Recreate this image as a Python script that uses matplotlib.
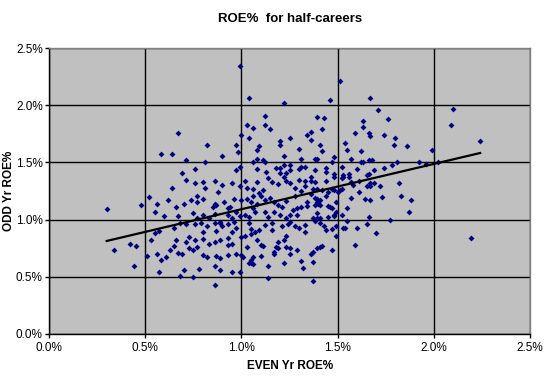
import numpy as np
import matplotlib
matplotlib.use("Agg")
import matplotlib.pyplot as plt
from matplotlib.ticker import FuncFormatter, MultipleLocator

plt.rcParams['font.family'] = ['Liberation Sans', 'DejaVu Sans']

# ROE%, (even year, odd year) pairs
even_roe = [
    0.67, 0.58, 0.64,
    0.99, 1.04, 1.22, 1.12, 1.03, 1.06, 1.12, 1.15, 1.00, 1.04, 1.20, 1.25, 1.30, 0.82, 0.97, 1.09,
    1.08, 1.20, 0.98, 0.90, 1.22, 0.71, 0.81, 1.08, 1.11, 1.06, 1.12, 0.99, 0.76, 0.97, 1.08, 1.13,
    1.18, 1.20, 1.22, 1.25, 1.20, 1.23, 1.25, 1.30, 0.69,
    1.51, 1.46, 1.67, 1.71, 1.39, 1.43, 1.76, 1.63, 1.63, 1.42, 1.36, 1.34, 1.59, 1.66, 1.67, 1.74,
    1.80, 1.36, 1.54, 1.41, 1.79, 1.86, 1.42, 1.55, 1.62, 1.48, 1.31, 1.38, 1.39, 1.57, 1.62, 1.63,
    1.66, 1.68, 1.81, 1.78, 1.92, 1.47, 1.31, 1.33, 1.38, 1.44, 1.44, 1.52, 1.60, 1.69, 1.74, 1.48,
    1.56, 1.66, 1.53,
    2.10, 2.09, 2.24, 1.99, 1.96, 2.02, 2.19,
    0.64, 0.52, 0.48, 0.56, 0.62, 0.30, 0.55, 0.66, 0.60, 0.67, 0.68, 0.65, 0.55, 0.57, 0.42, 0.45,
    0.53, 0.66, 0.65, 0.63, 0.67, 0.34, 0.56, 0.51, 0.61, 0.58, 0.44, 0.57, 0.68,
    0.71, 0.76, 0.80, 0.81, 0.86, 0.88, 0.90, 0.95, 0.99, 1.02, 1.03, 1.06, 1.08, 1.09, 1.11, 1.14,
    1.16, 1.19, 1.22, 1.23, 1.25, 1.28, 1.30,
    0.70, 0.74, 0.77, 0.77, 0.80, 0.85, 0.86, 0.87, 0.91, 0.94, 0.96, 1.00, 1.03, 1.05, 1.06, 1.08,
    1.10, 1.12, 1.15, 1.17, 1.19, 1.21, 1.23, 1.29, 1.28,
    0.75, 0.77, 0.80, 0.83, 0.86, 0.89, 0.93, 0.93, 0.95, 0.97, 0.99, 1.02, 1.04, 1.06, 1.07, 1.12,
    1.14, 1.17, 1.20, 1.23, 1.25, 1.27, 1.29,
    0.71, 0.76, 0.79, 0.82, 0.86, 0.87, 0.89, 0.90, 0.93, 0.95, 0.96, 0.97, 1.04, 1.05, 1.05, 1.07,
    1.09, 1.12, 1.16, 1.16, 1.21, 1.24, 1.25, 1.28, 1.30, 1.23,
    0.73, 0.71, 0.76, 0.80, 0.80, 0.77, 0.83, 0.86, 0.89, 0.93, 0.93, 0.95, 1.00, 1.02, 1.03, 1.08,
    1.10, 1.11, 1.18, 1.19, 1.22, 1.23, 1.25,
    0.69, 0.73, 0.75, 0.80, 0.82, 0.87, 0.89, 0.93, 0.97, 1.00, 1.01, 1.05, 1.05, 1.06, 1.10, 1.17,
    1.19, 1.17, 1.25, 1.29,
    0.70, 0.78, 0.86, 0.89, 0.95, 0.99, 1.04, 1.06, 1.14, 1.22,
    0.75, 0.86, 1.14,
    1.33, 1.36, 1.38, 1.36, 1.44, 1.48, 1.52, 1.53, 1.56, 1.57, 1.61, 1.65, 1.67, 1.69, 1.82, 1.31,
    1.33, 1.37, 1.39, 1.42, 1.45, 1.47, 1.48, 1.50, 1.51, 1.52, 1.58, 1.61, 1.65, 1.67, 1.72, 1.36,
    1.38, 1.39, 1.41, 1.44, 1.39, 1.34, 1.31, 1.34, 1.38, 1.40, 1.41, 1.45, 1.46, 1.47, 1.49, 1.49,
    1.48, 1.52, 1.55, 1.57, 1.64, 1.67, 1.73, 1.83, 1.88, 1.87,
    1.39, 1.37, 1.39, 1.41, 1.38, 1.41, 1.43, 1.45, 1.48, 1.55, 1.53, 1.54, 1.60, 1.65, 1.66, 1.77,
    1.33, 1.44, 1.47, 1.49, 1.33, 1.49, 1.70,
    1.59, 1.39, 1.41, 1.42, 1.47, 1.37, 1.36, 1.31, 1.37, 1.32, 1.37,
]
odd_roe = [
    1.76, 1.57, 1.57,
    2.34, 2.06, 2.02, 1.91, 1.83, 1.80, 1.83, 1.79, 1.74, 1.71, 1.69, 1.71, 1.62, 1.65, 1.65, 1.64,
    1.61, 1.65, 1.59, 1.56, 1.56, 1.52, 1.50, 1.53, 1.52, 1.50, 1.50, 1.46, 1.44, 1.43, 1.44, 1.42,
    1.45, 1.45, 1.48, 1.48, 1.41, 1.41, 1.43, 1.44, 1.41,
    2.21, 2.05, 2.06, 1.96, 1.90, 1.89, 1.88, 1.86, 1.81, 1.79, 1.77, 1.74, 1.76, 1.76, 1.73, 1.74,
    1.71, 1.70, 1.67, 1.65, 1.65, 1.64, 1.60, 1.61, 1.60, 1.55, 1.53, 1.53, 1.53, 1.53, 1.50, 1.50,
    1.52, 1.52, 1.50, 1.48, 1.50, 1.50, 1.46, 1.46, 1.43, 1.45, 1.42, 1.46, 1.44, 1.43, 1.45, 1.40,
    1.40, 1.40, 1.39,
    1.97, 1.83, 1.69, 1.61, 1.49, 1.50, 0.84,
    1.28, 1.20, 1.13, 1.14, 1.17, 1.09, 1.07, 1.11, 1.03, 1.03, 0.97, 0.93, 0.88, 0.90, 0.79, 0.77,
    0.82, 0.82, 0.77, 0.73, 0.71, 0.73, 0.70, 0.68, 0.67, 0.65, 0.59, 0.54, 0.51,
    1.35, 1.32, 1.33, 1.28, 1.34, 1.24, 1.30, 1.32, 1.29, 1.34, 1.28, 1.27, 1.33, 1.23, 1.26, 1.36,
    1.33, 1.31, 1.37, 1.34, 1.32, 1.28, 1.35,
    1.14, 1.17, 1.21, 1.15, 1.18, 1.11, 1.14, 1.13, 1.15, 1.11, 1.18, 1.17, 1.18, 1.15, 1.21, 1.14,
    1.21, 1.17, 1.19, 1.15, 1.13, 1.11, 1.16, 1.10, 1.21,
    1.06, 1.01, 1.04, 1.01, 1.05, 0.98, 1.10, 1.04, 1.01, 1.07, 1.03, 1.04, 1.02, 1.10, 1.07, 1.07,
    1.02, 1.07, 1.04, 1.01, 1.04, 1.08, 1.04,
    0.96, 0.96, 0.97, 0.94, 0.97, 0.90, 0.97, 0.94, 0.96, 0.89, 0.98, 0.93, 0.97, 0.92, 0.87, 0.89,
    0.91, 0.95, 0.97, 0.91, 0.94, 0.96, 0.98, 0.94, 0.93, 0.86,
    0.85, 0.80, 0.82, 0.89, 0.83, 0.76, 0.79, 0.80, 0.82, 0.84, 0.78, 0.79, 0.85, 0.86, 0.76, 0.82,
    0.78, 0.77, 0.76, 0.80, 0.82, 0.76, 0.75,
    0.70, 0.75, 0.73, 0.69, 0.67, 0.68, 0.66, 0.69, 0.70, 0.69, 0.67, 0.62, 0.65, 0.67, 0.68, 0.72,
    0.75, 0.70, 0.70, 0.73,
    0.56, 0.57, 0.59, 0.56, 0.54, 0.54, 0.62, 0.61, 0.59, 0.62,
    0.50, 0.43, 0.49,
    1.34, 1.37, 1.33, 1.34, 1.34, 1.37, 1.36, 1.37, 1.37, 1.33, 1.34, 1.39, 1.32, 1.32, 1.32, 1.25,
    1.29, 1.27, 1.27, 1.26, 1.24, 1.27, 1.26, 1.24, 1.26, 1.27, 1.30, 1.24, 1.29, 1.29, 1.29, 1.22,
    1.19, 1.18, 1.17, 1.21, 1.15, 1.15, 1.11, 1.12, 1.13, 1.14, 1.13, 1.12, 1.11, 1.10, 1.15, 1.07,
    1.04, 1.04, 1.10, 1.19, 1.18, 1.17, 1.20, 1.21, 1.17, 1.07,
    1.06, 1.01, 1.01, 1.01, 0.99, 0.97, 0.94, 1.02, 1.03, 0.99, 0.93, 0.93, 0.93, 0.96, 1.02, 1.00,
    0.95, 0.91, 0.92, 0.94, 0.89, 0.86, 0.88,
    0.78, 0.75, 0.76, 0.77, 0.73, 0.72, 0.70, 0.64, 0.63, 0.58, 0.46,
]

x = np.array(even_roe)
y = np.array(odd_roe)

fig = plt.figure(figsize=(5.5, 3.76), dpi=100)
ax = fig.add_axes([0.089, 0.112, 0.875, 0.760])
ax.set_facecolor('#C0C0C0')

ax.scatter(x, y, marker='D', s=9, color='#000080', linewidths=0, zorder=3)

# linear trendline over the data range
slope, icept = np.polyfit(x, y, 1)
xt = np.array([x.min(), x.max()])
ax.plot(xt, slope * xt + icept, color='black', linewidth=1.6, zorder=4)

ax.set_xlim(0, 2.5)
ax.set_ylim(0, 2.5)
ax.xaxis.set_major_locator(MultipleLocator(0.5))
ax.yaxis.set_major_locator(MultipleLocator(0.5))
pct = FuncFormatter(lambda v, p: f"{v:.1f}%")
ax.xaxis.set_major_formatter(pct)
ax.yaxis.set_major_formatter(pct)
ax.grid(True, color='black', linewidth=1.0, zorder=1)
ax.set_axisbelow(True)

for s in ['left', 'bottom']:
    ax.spines[s].set_color('black')
    ax.spines[s].set_linewidth(1.0)
for s in ['top', 'right']:
    ax.spines[s].set_color('#808080')
    ax.spines[s].set_linewidth(1.0)

ax.tick_params(axis='both', direction='out', length=3, width=1, labelsize=8.5, colors='black')
ax.tick_params(axis='x', pad=3)
ax.tick_params(axis='y', pad=1.5)

ax.set_title('ROE%  for half-careers', fontsize=9.5, fontweight='bold', pad=19)
ax.set_xlabel('EVEN Yr ROE%', fontsize=8.5, fontweight='bold', labelpad=4)
ax.set_ylabel('ODD Yr ROE%', fontsize=8.5, fontweight='bold')
ax.yaxis.set_label_coords(-0.071, 0.5)

fig.savefig('out.png', dpi=100)
